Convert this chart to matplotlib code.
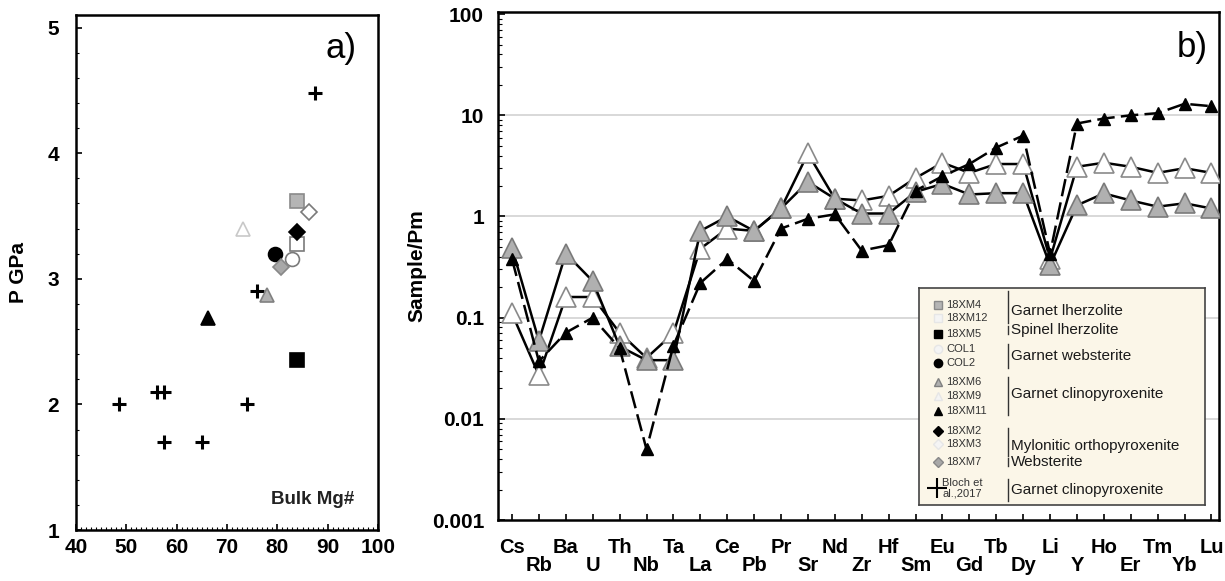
import matplotlib
matplotlib.use("Agg")
import matplotlib.pyplot as plt
from matplotlib.ticker import MultipleLocator, LogLocator, NullFormatter, FixedLocator

plt.rcParams['font.family'] = ['Liberation Sans', 'DejaVu Sans']

# ---- panel a) : P (GPa) vs bulk Mg# ----
bloch_mg = [87.5, 76.0, 48.5, 56.0, 57.5, 57.5, 65.0, 74.0]
bloch_p = [4.48, 2.9, 2.0, 2.1, 2.1, 1.7, 1.7, 2.0]

samples = {
    # name: (Mg#, P, marker, face, edge)
    '18XM4': (84.0, 3.62, 's', '#b5b5b5', '#8a8a8a'),
    '18XM12': (84.0, 3.28, 's', 'white', '#7a7a7a'),
    '18XM5': (84.0, 2.35, 's', 'black', 'black'),
    'COL1': (83.0, 3.16, 'o', 'white', '#7a7a7a'),
    'COL2': (79.5, 3.2, 'o', 'black', 'black'),
    '18XM6': (78.0, 2.87, '^', '#b0b0b0', '#808080'),
    '18XM9': (73.2, 3.4, '^', 'white', '#c8c8c8'),
    '18XM11': (66.3, 2.69, '^', 'black', 'black'),
    '18XM2': (84.0, 3.37, 'D', 'black', 'black'),
    '18XM3': (86.3, 3.53, 'D', 'white', '#7a7a7a'),
    '18XM7': (80.8, 3.09, 'D', '#a8a8a8', '#888888'),
}

# ---- panel b) : primitive-mantle normalised spider diagram ----
elements = ['Cs', 'Rb', 'Ba', 'U', 'Th', 'Nb', 'Ta', 'La', 'Ce', 'Pb', 'Pr', 'Sr', 'Nd', 'Zr',
            'Hf', 'Sm', 'Eu', 'Gd', 'Tb', 'Dy', 'Li', 'Y', 'Ho', 'Er', 'Tm', 'Yb', 'Lu']
xm9 = [0.11, 0.027, 0.16, 0.16, 0.071, 0.04, 0.07, 0.48, 0.76, 0.72, 1.2, 4.2, 1.5, 1.44,
       1.6, 2.4, 3.4, 2.7, 3.3, 3.3, 0.38, 3.1, 3.4, 3.1, 2.7, 3.0, 2.7]
xm6 = [0.49, 0.059, 0.43, 0.23, 0.052, 0.038, 0.038, 0.72, 1.0, 0.72, 1.2, 2.2, 1.5, 1.07,
       1.07, 1.75, 2.1, 1.65, 1.7, 1.7, 0.33, 1.29, 1.69, 1.44, 1.25, 1.35, 1.2]
xm11 = [0.38, 0.037, 0.071, 0.1, 0.05, 0.005, 0.053, 0.22, 0.38, 0.23, 0.76, 0.95, 1.05, 0.46,
        0.52, 1.8, 2.5, 3.3, 4.8, 6.3, 0.43, 8.3, 9.3, 10.0, 10.5, 13.0, 12.3]

fig = plt.figure(figsize=(12.25, 5.81), dpi=100)

# ------------------------- panel a -------------------------
ax1 = fig.add_axes([76 / 1225, 1 - 530 / 581, 302 / 1225, 515 / 581])
ax1.scatter(bloch_mg, bloch_p, marker='+', s=110, c='black', linewidths=2.2, zorder=3)
for name, (mg, p, mk, fc, ec) in samples.items():
    ax1.plot(mg, p, marker=mk, ms=10 if mk != 'D' else 8, mfc=fc, mec=ec, mew=1.2,
             ls='none', zorder=4)
ax1.set_xlim(40, 100)
ax1.set_ylim(1.0, 5.1)
ax1.xaxis.set_major_locator(MultipleLocator(10))
ax1.xaxis.set_minor_locator(MultipleLocator(1))
ax1.yaxis.set_major_locator(MultipleLocator(1))
ax1.yaxis.set_minor_locator(MultipleLocator(0.2))
ax1.tick_params(which='both', direction='in', top=False, right=False)
ax1.tick_params(which='major', length=4, width=1.2, labelsize=15)
ax1.tick_params(which='minor', length=2, width=0.8)
for lab in ax1.get_xticklabels() + ax1.get_yticklabels():
    lab.set_fontweight('bold')
ax1.tick_params(axis='x', pad=6)
ax1.tick_params(axis='y', pad=12)
for sp in ax1.spines.values():
    sp.set_linewidth(1.8)
ax1.set_ylabel('P GPa', fontsize=15, fontweight='bold', labelpad=14)
ax1.text(0.92, 0.06, 'Bulk Mg#', transform=ax1.transAxes, ha='right', va='center',
         fontsize=13.5, fontweight='bold', color='#222222')
ax1.text(0.93, 0.935, 'a)', transform=ax1.transAxes, ha='right', va='center', fontsize=25)

# ------------------------- panel b -------------------------
ax2 = fig.add_axes([498 / 1225, 1 - 520 / 581, 721 / 1225, 508 / 581])
x = list(range(len(elements)))
ax2.set_yscale('log')
for v in [0.01, 0.1, 1, 10]:
    ax2.axhline(v, color='#d2d2d2', lw=1.2, zorder=0)
ax2.plot(x, xm9, color='black', lw=1.8, marker='^', ms=14, mfc='white', mec='#8a8a8a',
         mew=1.2, zorder=3)
ax2.plot(x, xm6, color='black', lw=1.8, marker='^', ms=14, mfc='#b0b0b0', mec='#7a7a7a',
         mew=1.2, zorder=4)
ax2.plot(x, xm11, color='black', lw=1.8, ls=(0, (7, 2.5)), marker='^', ms=9, mfc='black',
         mec='black', zorder=5)
ax2.set_xlim(-0.52, 26.28)
ax2.set_ylim(0.001, 105)
ax2.set_xticks(x)
ax2.set_xticklabels([e if i % 2 == 0 else '\n' + e for i, e in enumerate(elements)],
                    fontsize=14.5, fontweight='bold', linespacing=0.95)
ax2.yaxis.set_major_locator(FixedLocator([0.001, 0.01, 0.1, 1, 10, 100]))
ax2.set_yticklabels(['0.001', '0.01', '0.1', '1', '10', '100'], fontsize=15, fontweight='bold')
ax2.yaxis.set_minor_locator(LogLocator(base=10, subs=range(2, 10), numticks=20))
ax2.yaxis.set_minor_formatter(NullFormatter())
ax2.tick_params(which='both', direction='in', top=False, right=False)
ax2.tick_params(which='major', length=5, width=1.2)
ax2.tick_params(which='minor', length=3, width=0.8)
ax2.tick_params(axis='x', pad=13, length=4)
ax2.tick_params(axis='y', pad=10)
for sp in ax2.spines.values():
    sp.set_linewidth(1.8)
ax2.set_ylabel('Sample/Pm', fontsize=15, fontweight='bold', labelpad=4)
ax2.text(0.985, 0.93, 'b)', transform=ax2.transAxes, ha='right', va='center', fontsize=25)

# ------------------------- legend box -------------------------
lg = fig.add_axes([919 / 1225, 1 - 505 / 581, 286 / 1225, 217 / 581])
lg.set_facecolor('#fbf6e8')
lg.set_xlim(919, 1205)
lg.set_ylim(505, 288)
lg.set_xticks([])
lg.set_yticks([])
for sp in lg.spines.values():
    sp.set_linewidth(1.2)
    sp.set_color('#444444')

rows = [('18XM4', 305), ('18XM12', 318), ('18XM5', 334), ('COL1', 349), ('COL2', 363),
        ('18XM6', 382), ('18XM9', 396), ('18XM11', 411), ('18XM2', 431), ('18XM3', 444),
        ('18XM7', 462)]
for name, yy in rows:
    mg, p, mk, fc, ec = samples[name]
    if fc == 'white':
        fc, ec = '#f4f4f4', '#e6e6e6'
    lg.plot(938, yy, marker=mk, ms=6 if mk != 'D' else 5, mfc=fc, mec=ec, ls='none')
    lg.text(946, yy, name, fontsize=8, va='center', ha='left', color='#333333')
lg.plot(937, 488, marker='+', ms=14, mew=1.5, color='black', ls='none')
lg.text(962, 488, 'Bloch et\nal.,2017', fontsize=8, va='center', ha='center',
        color='#333333', linespacing=1.0)

groups = [('Garnet lherzolite', 311, 291, 323), ('Spinel lherzolite', 330, 326, 334),
          ('Garnet websterite', 356, 344, 368), ('Garnet clinopyroxenite', 394, 377, 415),
          ('Mylonitic orthopyroxenite', 446, 428, 456), ('Websterite', 462, 458, 466),
          ('Garnet clinopyroxenite', 490, 479, 501)]
for label, yy, y0, y1 in groups:
    lg.plot([1008, 1008], [y0, y1], color='#333333', lw=1)
    lg.text(1011, yy, label, fontsize=11, va='center', ha='left', color='#1a1a1a')

fig.savefig('out.png', dpi=100)
